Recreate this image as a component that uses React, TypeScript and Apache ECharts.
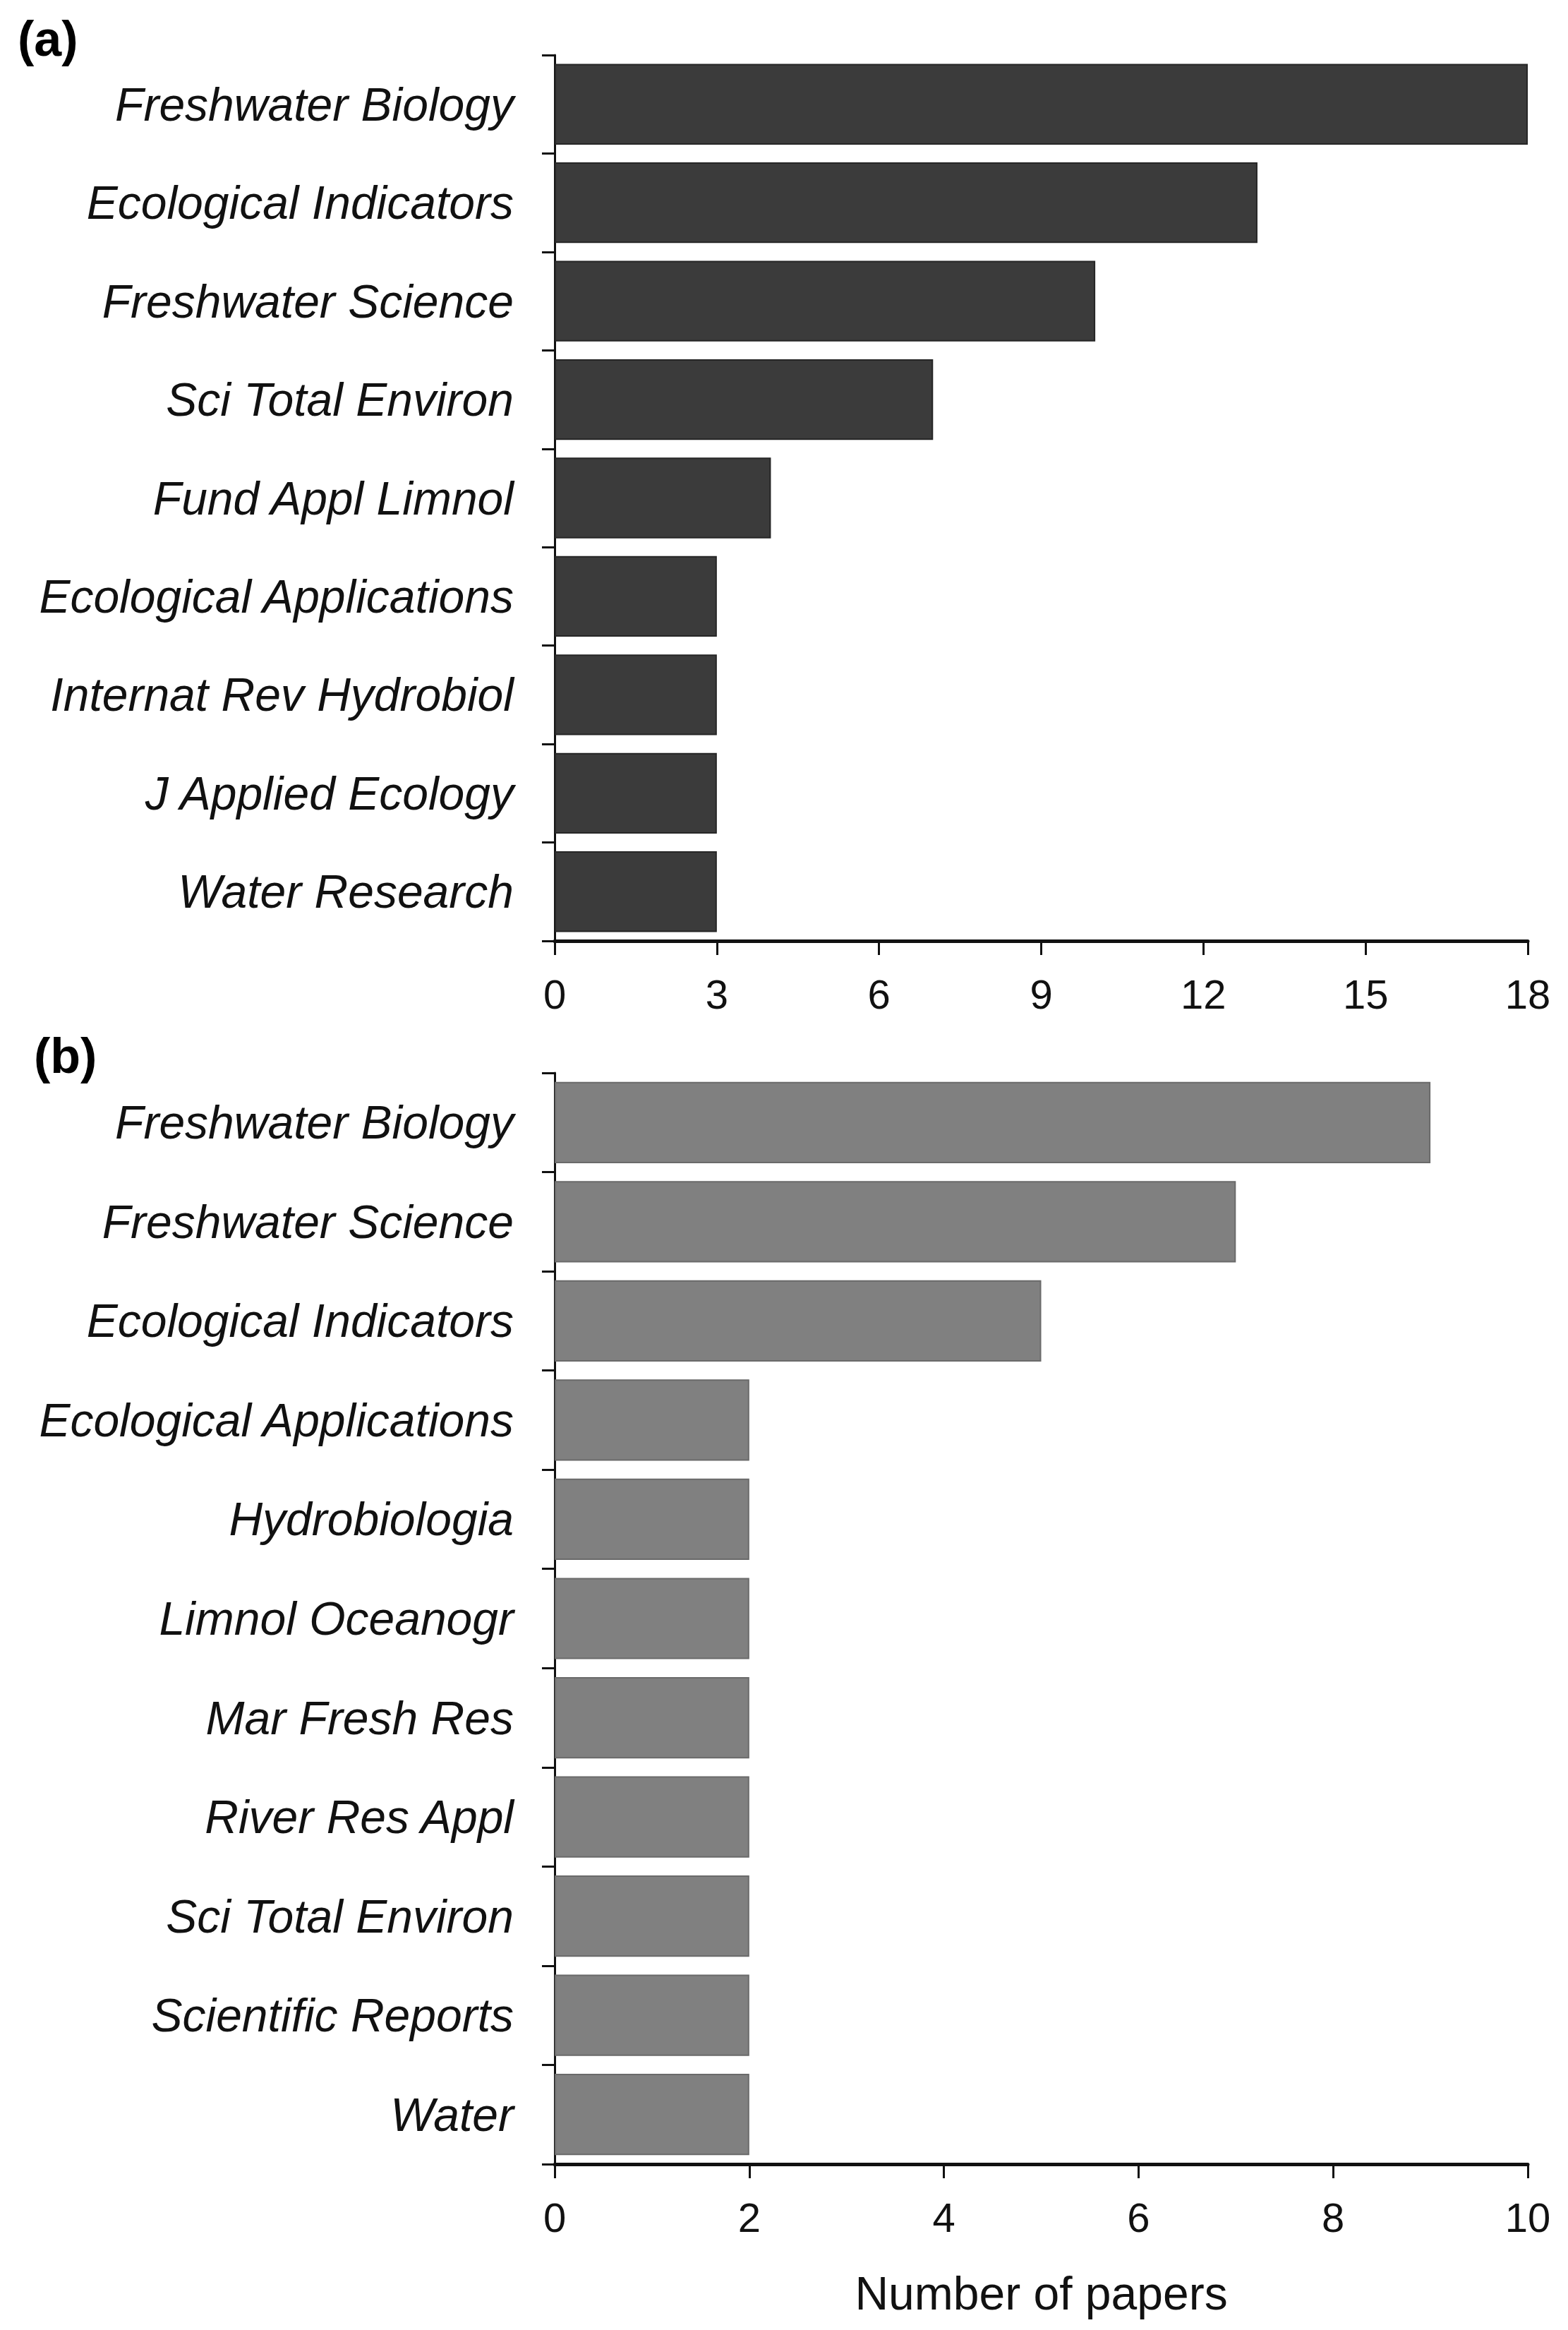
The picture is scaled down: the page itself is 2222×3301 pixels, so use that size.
import React, { useEffect, useRef } from "react";
import * as echarts from "echarts";

const catsA = [
  "Freshwater Biology",
  "Ecological Indicators",
  "Freshwater Science",
  "Sci Total Environ",
  "Fund Appl Limnol",
  "Ecological Applications",
  "Internat Rev Hydrobiol",
  "J Applied Ecology",
  "Water Research",
];
const valsA = [18, 13, 10, 7, 4, 3, 3, 3, 3];

const catsB = [
  "Freshwater Biology",
  "Freshwater Science",
  "Ecological Indicators",
  "Ecological Applications",
  "Hydrobiologia",
  "Limnol Oceanogr",
  "Mar Fresh Res",
  "River Res Appl",
  "Sci Total Environ",
  "Scientific Reports",
  "Water",
];
const valsB = [9, 7, 5, 2, 2, 2, 2, 2, 2, 2, 2];

const xMaxA = 18;
const xStepA = 3;
const xMaxB = 10;
const xStepB = 2;
const xTitle = "Number of papers";

const FONT = "Liberation Sans, Arial, sans-serif";

export default function App() {
  const ref = useRef<HTMLDivElement>(null);
  useEffect(() => {
    if (!ref.current) return;
    const chart = echarts.init(ref.current, null, { renderer: "svg" });
    const valueAxis = (gridIndex: number, max: number, interval: number) => ({
      gridIndex,
      type: "value",
      min: 0,
      max,
      interval,
      splitLine: { show: false },
      axisLine: { show: true, onZero: false, lineStyle: { color: "#111", width: 5 } },
      axisTick: { show: true, length: 20, lineStyle: { color: "#111", width: 3 } },
      axisLabel: { fontSize: 58, color: "#111", margin: 46, fontFamily: FONT },
    });
    const catAxis = (gridIndex: number, data: string[]) => ({
      gridIndex,
      type: "category",
      data,
      inverse: true,
      axisLine: { show: true, lineStyle: { color: "#111", width: 3 } },
      axisTick: { show: true, length: 18, lineStyle: { color: "#111", width: 3 } },
      axisLabel: {
        fontSize: 66,
        fontStyle: "italic",
        color: "#111",
        margin: 58,
        fontFamily: FONT,
      },
    });
    chart.setOption({
      animation: false,
      backgroundColor: "#ffffff",
      textStyle: { fontFamily: FONT },
      grid: [
        { left: 786, width: 1379, top: 78, height: 1255 },
        { left: 786, width: 1379, top: 1520, height: 1546 },
      ],
      xAxis: [
        valueAxis(0, xMaxA, xStepA),
        {
          ...valueAxis(1, xMaxB, xStepB),
          name: xTitle,
          nameLocation: "middle",
          nameGap: 150,
          nameTextStyle: { fontSize: 66, color: "#111", fontFamily: FONT },
        },
      ],
      yAxis: [catAxis(0, catsA), catAxis(1, catsB)],
      series: [
        {
          type: "bar",
          xAxisIndex: 0,
          yAxisIndex: 0,
          data: valsA,
          barCategoryGap: "18%",
          itemStyle: { color: "#3b3b3b", borderColor: "#262626", borderWidth: 2 },
        },
        {
          type: "bar",
          xAxisIndex: 1,
          yAxisIndex: 1,
          data: valsB,
          barCategoryGap: "18%",
          itemStyle: { color: "#808080", borderColor: "#6a6a6a", borderWidth: 2 },
        },
      ],
      graphic: [
        {
          type: "text",
          left: 25,
          top: 20,
          style: { text: "(a)", font: `bold 70px ${FONT}`, fill: "#000" },
        },
        {
          type: "text",
          left: 48,
          top: 1461,
          style: { text: "(b)", font: `bold 70px ${FONT}`, fill: "#000" },
        },
      ],
    });
    return () => chart.dispose();
  }, []);
  return (
    <div
      ref={ref}
      style={{ position: "absolute", left: 0, top: 0, width: 2222, height: 3301 }}
    />
  );
}
